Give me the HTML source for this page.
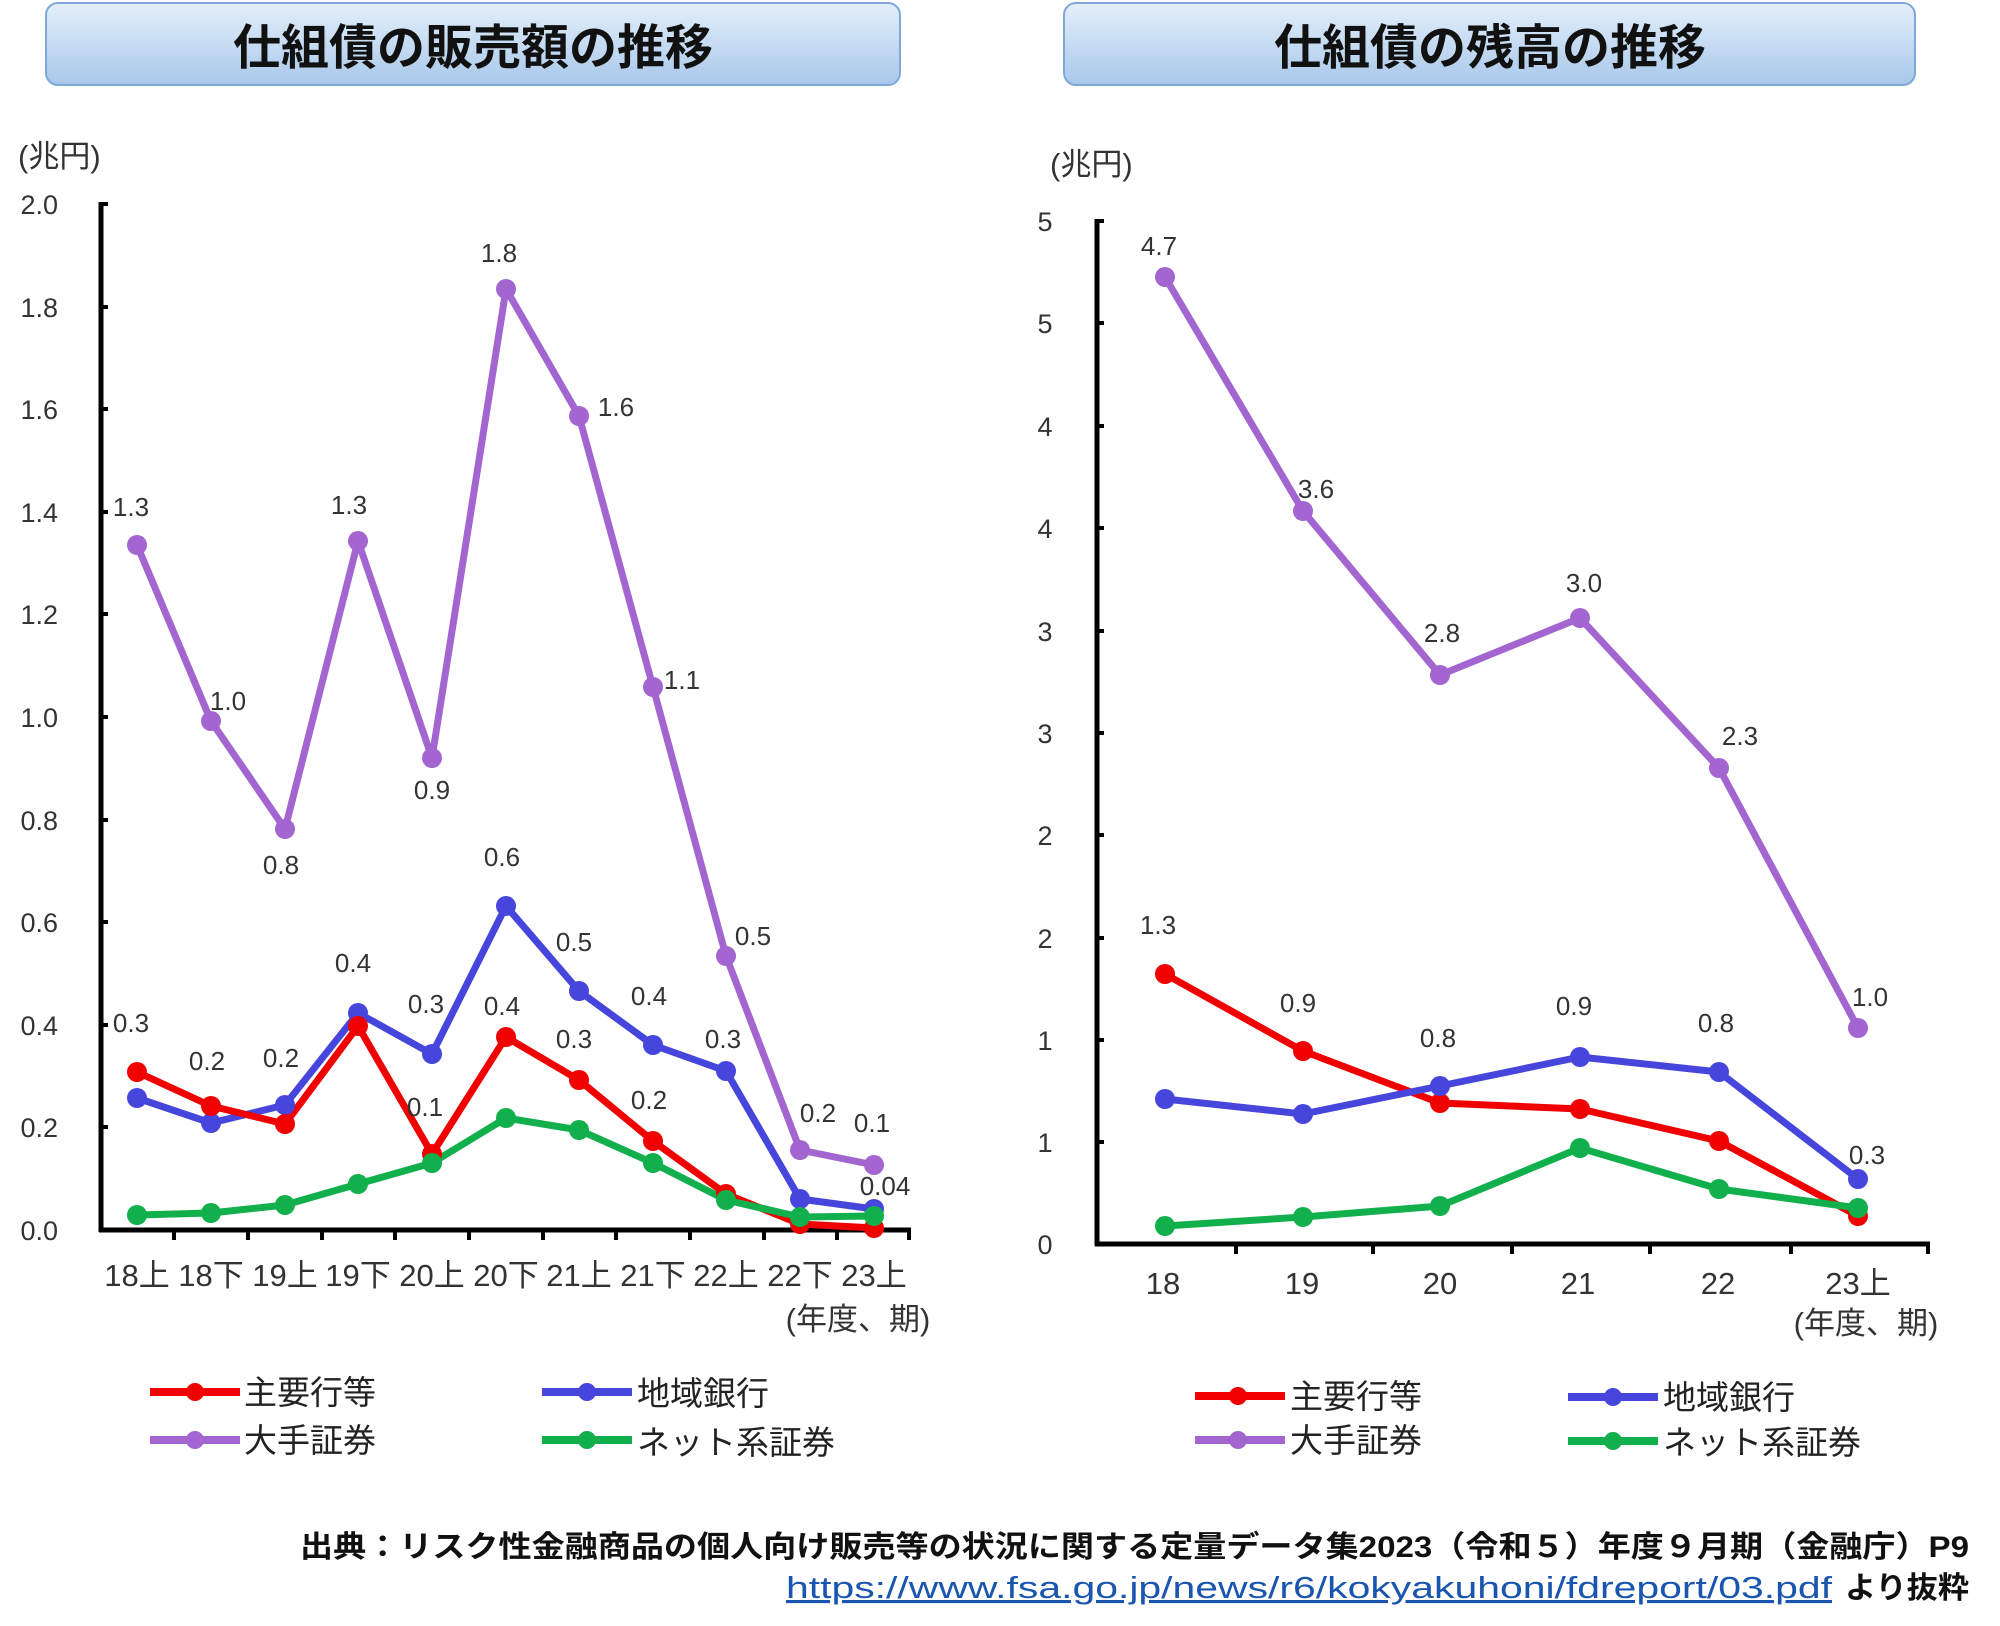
<!DOCTYPE html>
<html><head><meta charset="utf-8"><style>
html,body{margin:0;padding:0;background:#fff;}
svg{display:block;}
text{font-family:"Liberation Sans","Noto Sans CJK JP",sans-serif;}
.t{font-size:27px;fill:#333;}
.l{font-size:26px;fill:#333;}
.c{font-size:31px;fill:#333;}
.lg{font-size:33px;fill:#222;}
</style></head><body>
<svg width="2000" height="1626" viewBox="0 0 2000 1626" xmlns="http://www.w3.org/2000/svg">
<defs><linearGradient id="g" x1="0" y1="0" x2="0" y2="1"><stop offset="0" stop-color="#e4effa"/><stop offset="1" stop-color="#a8c8ea"/></linearGradient></defs>
<rect x="46" y="3" width="854" height="82" rx="12" fill="url(#g)" stroke="#7fa8d8" stroke-width="2"/>
<text x="473" y="64" text-anchor="middle" style="font-size:48px;font-weight:bold;fill:#111">仕組債の販売額の推移</text>
<rect x="1064" y="3" width="851" height="82" rx="12" fill="url(#g)" stroke="#7fa8d8" stroke-width="2"/>
<text x="1490" y="64" text-anchor="middle" style="font-size:48px;font-weight:bold;fill:#111">仕組債の残高の推移</text>

<text x="18" y="167" class="c">(兆円)</text>
<g class="t" text-anchor="end">
<text x="58" y="214">2.0</text><text x="58" y="317">1.8</text><text x="58" y="419">1.6</text><text x="58" y="522">1.4</text><text x="58" y="624">1.2</text><text x="58" y="727">1.0</text><text x="58" y="830">0.8</text><text x="58" y="932">0.6</text><text x="58" y="1035">0.4</text><text x="58" y="1137">0.2</text><text x="58" y="1240">0.0</text>
</g>
<g stroke="#000" stroke-width="5" fill="none">
<line x1="101" y1="202" x2="101" y2="1232"/><line x1="99" y1="1230" x2="911" y2="1230"/>
</g>
<g stroke="#000" stroke-width="4">
<line x1="101" y1="204" x2="108" y2="204"/><line x1="101" y1="307" x2="108" y2="307"/><line x1="101" y1="409" x2="108" y2="409"/><line x1="101" y1="512" x2="108" y2="512"/><line x1="101" y1="614" x2="108" y2="614"/><line x1="101" y1="717" x2="108" y2="717"/><line x1="101" y1="820" x2="108" y2="820"/><line x1="101" y1="922" x2="108" y2="922"/><line x1="101" y1="1025" x2="108" y2="1025"/><line x1="101" y1="1127" x2="108" y2="1127"/>
<line x1="174" y1="1230" x2="174" y2="1240"/><line x1="248" y1="1230" x2="248" y2="1240"/><line x1="322" y1="1230" x2="322" y2="1240"/><line x1="395" y1="1230" x2="395" y2="1240"/><line x1="469" y1="1230" x2="469" y2="1240"/><line x1="543" y1="1230" x2="543" y2="1240"/><line x1="616" y1="1230" x2="616" y2="1240"/><line x1="690" y1="1230" x2="690" y2="1240"/><line x1="764" y1="1230" x2="764" y2="1240"/><line x1="837" y1="1230" x2="837" y2="1240"/><line x1="909" y1="1230" x2="909" y2="1240"/>
</g>
<g class="c" text-anchor="middle">
<text x="137" y="1286">18上</text><text x="211" y="1286">18下</text><text x="285" y="1286">19上</text><text x="358" y="1286">19下</text><text x="432" y="1286">20上</text><text x="506" y="1286">20下</text><text x="579" y="1286">21上</text><text x="653" y="1286">21下</text><text x="726" y="1286">22上</text><text x="800" y="1286">22下</text><text x="874" y="1286">23上</text>
<text x="858" y="1330">(年度、期)</text>
</g>
<g stroke-width="7" fill="none" stroke-linejoin="round">
<polyline stroke="#a366d0" points="137,545 211,721 285,829 358,541 432,758 506,289 579,416 653,687 726,956 800,1150 874,1165"/>
<polyline stroke="#4646dc" points="137,1098 211,1123 285,1105 358,1013 432,1054 506,906 579,991 653,1045 726,1071 800,1199 874,1209"/>
<polyline stroke="#f00000" points="137,1072 211,1106 285,1124 358,1026 432,1154 506,1037 579,1080 653,1141 726,1194 800,1224 874,1228"/>
<polyline stroke="#12b04c" points="137,1215 211,1213 285,1205 358,1184 432,1163 506,1118 579,1130 653,1163 726,1200 800,1217 874,1216"/>
</g>
<g fill="#a366d0"><circle cx="137" cy="545" r="10"/><circle cx="211" cy="721" r="10"/><circle cx="285" cy="829" r="10"/><circle cx="358" cy="541" r="10"/><circle cx="432" cy="758" r="10"/><circle cx="506" cy="289" r="10"/><circle cx="579" cy="416" r="10"/><circle cx="653" cy="687" r="10"/><circle cx="726" cy="956" r="10"/><circle cx="800" cy="1150" r="10"/><circle cx="874" cy="1165" r="10"/></g>
<g fill="#4646dc"><circle cx="137" cy="1098" r="10"/><circle cx="211" cy="1123" r="10"/><circle cx="285" cy="1105" r="10"/><circle cx="358" cy="1013" r="10"/><circle cx="432" cy="1054" r="10"/><circle cx="506" cy="906" r="10"/><circle cx="579" cy="991" r="10"/><circle cx="653" cy="1045" r="10"/><circle cx="726" cy="1071" r="10"/><circle cx="800" cy="1199" r="10"/><circle cx="874" cy="1209" r="10"/></g>
<g fill="#f00000"><circle cx="137" cy="1072" r="10"/><circle cx="211" cy="1106" r="10"/><circle cx="285" cy="1124" r="10"/><circle cx="358" cy="1026" r="10"/><circle cx="432" cy="1154" r="10"/><circle cx="506" cy="1037" r="10"/><circle cx="579" cy="1080" r="10"/><circle cx="653" cy="1141" r="10"/><circle cx="726" cy="1194" r="10"/><circle cx="800" cy="1224" r="10"/><circle cx="874" cy="1228" r="10"/></g>
<g fill="#12b04c"><circle cx="137" cy="1215" r="10"/><circle cx="211" cy="1213" r="10"/><circle cx="285" cy="1205" r="10"/><circle cx="358" cy="1184" r="10"/><circle cx="432" cy="1163" r="10"/><circle cx="506" cy="1118" r="10"/><circle cx="579" cy="1130" r="10"/><circle cx="653" cy="1163" r="10"/><circle cx="726" cy="1200" r="10"/><circle cx="800" cy="1217" r="10"/><circle cx="874" cy="1216" r="10"/></g>
<g class="l" text-anchor="middle">
<text x="131" y="516">1.3</text><text x="228" y="710">1.0</text><text x="281" y="874">0.8</text><text x="349" y="514">1.3</text><text x="432" y="799">0.9</text><text x="499" y="262">1.8</text><text x="616" y="416">1.6</text><text x="682" y="689">1.1</text><text x="753" y="945">0.5</text><text x="818" y="1122">0.2</text><text x="872" y="1132">0.1</text><text x="885" y="1195">0.04</text>
<text x="353" y="972">0.4</text><text x="426" y="1013">0.3</text><text x="502" y="866">0.6</text><text x="574" y="951">0.5</text><text x="649" y="1005">0.4</text><text x="723" y="1048">0.3</text>
<text x="131" y="1032">0.3</text><text x="207" y="1070">0.2</text><text x="281" y="1067">0.2</text><text x="425" y="1116">0.1</text><text x="502" y="1015">0.4</text><text x="574" y="1048">0.3</text><text x="649" y="1109">0.2</text>
</g>
<g stroke-width="8"><line x1="150" y1="1392" x2="240" y2="1392" stroke="#f00000"/><line x1="542" y1="1392" x2="632" y2="1392" stroke="#4646dc"/><line x1="150" y1="1440" x2="240" y2="1440" stroke="#a366d0"/><line x1="542" y1="1440" x2="632" y2="1440" stroke="#12b04c"/></g>
<circle cx="195" cy="1392" r="9" fill="#f00000"/><circle cx="587" cy="1392" r="9" fill="#4646dc"/><circle cx="195" cy="1440" r="9" fill="#a366d0"/><circle cx="587" cy="1440" r="9" fill="#12b04c"/>
<g class="lg"><text x="244" y="1404">主要行等</text><text x="637" y="1405">地域銀行</text><text x="244" y="1452">大手証券</text><text x="637" y="1454">ネット系証券</text></g>

<text x="1050" y="175" class="c">(兆円)</text>
<g class="t" text-anchor="middle">
<text x="1045" y="231">5</text><text x="1045" y="333">5</text><text x="1045" y="436">4</text><text x="1045" y="538">4</text><text x="1045" y="641">3</text><text x="1045" y="743">3</text><text x="1045" y="845">2</text><text x="1045" y="948">2</text><text x="1045" y="1050">1</text><text x="1045" y="1152">1</text><text x="1045" y="1254">0</text>
</g>
<g stroke="#000" stroke-width="5" fill="none">
<line x1="1097" y1="219" x2="1097" y2="1246"/><line x1="1095" y1="1244" x2="1930" y2="1244"/>
</g>
<g stroke="#000" stroke-width="4">
<line x1="1097" y1="221" x2="1104" y2="221"/><line x1="1097" y1="323" x2="1104" y2="323"/><line x1="1097" y1="426" x2="1104" y2="426"/><line x1="1097" y1="528" x2="1104" y2="528"/><line x1="1097" y1="631" x2="1104" y2="631"/><line x1="1097" y1="733" x2="1104" y2="733"/><line x1="1097" y1="835" x2="1104" y2="835"/><line x1="1097" y1="938" x2="1104" y2="938"/><line x1="1097" y1="1040" x2="1104" y2="1040"/><line x1="1097" y1="1142" x2="1104" y2="1142"/>
<line x1="1236" y1="1244" x2="1236" y2="1254"/><line x1="1373" y1="1244" x2="1373" y2="1254"/><line x1="1512" y1="1244" x2="1512" y2="1254"/><line x1="1650" y1="1244" x2="1650" y2="1254"/><line x1="1791" y1="1244" x2="1791" y2="1254"/><line x1="1928" y1="1244" x2="1928" y2="1254"/>
</g>
<g class="c" text-anchor="middle">
<text x="1163" y="1294">18</text><text x="1302" y="1294">19</text><text x="1440" y="1294">20</text><text x="1578" y="1294">21</text><text x="1718" y="1294">22</text><text x="1858" y="1294">23上</text>
<text x="1866" y="1334">(年度、期)</text>
</g>
<g stroke-width="7" fill="none" stroke-linejoin="round">
<polyline stroke="#a366d0" points="1165,277 1303,511 1440,675 1580,618 1719,768 1858,1028"/>
<polyline stroke="#f00000" points="1165,974 1303,1051 1440,1103 1580,1109 1719,1141 1858,1216"/>
<polyline stroke="#4646dc" points="1165,1099 1303,1114 1440,1086 1580,1057 1719,1072 1858,1179"/>
<polyline stroke="#12b04c" points="1165,1226 1303,1217 1440,1206 1580,1148 1719,1189 1858,1208"/>
</g>
<g fill="#a366d0"><circle cx="1165" cy="277" r="10"/><circle cx="1303" cy="511" r="10"/><circle cx="1440" cy="675" r="10"/><circle cx="1580" cy="618" r="10"/><circle cx="1719" cy="768" r="10"/><circle cx="1858" cy="1028" r="10"/></g>
<g fill="#f00000"><circle cx="1165" cy="974" r="10"/><circle cx="1303" cy="1051" r="10"/><circle cx="1440" cy="1103" r="10"/><circle cx="1580" cy="1109" r="10"/><circle cx="1719" cy="1141" r="10"/><circle cx="1858" cy="1216" r="10"/></g>
<g fill="#4646dc"><circle cx="1165" cy="1099" r="10"/><circle cx="1303" cy="1114" r="10"/><circle cx="1440" cy="1086" r="10"/><circle cx="1580" cy="1057" r="10"/><circle cx="1719" cy="1072" r="10"/><circle cx="1858" cy="1179" r="10"/></g>
<g fill="#12b04c"><circle cx="1165" cy="1226" r="10"/><circle cx="1303" cy="1217" r="10"/><circle cx="1440" cy="1206" r="10"/><circle cx="1580" cy="1148" r="10"/><circle cx="1719" cy="1189" r="10"/><circle cx="1858" cy="1208" r="10"/></g>
<g class="l" text-anchor="middle">
<text x="1159" y="255">4.7</text><text x="1316" y="498">3.6</text><text x="1442" y="642">2.8</text><text x="1584" y="592">3.0</text><text x="1740" y="745">2.3</text><text x="1870" y="1006">1.0</text>
<text x="1158" y="934">1.3</text><text x="1298" y="1012">0.9</text><text x="1438" y="1047">0.8</text><text x="1574" y="1015">0.9</text><text x="1716" y="1032">0.8</text><text x="1867" y="1164">0.3</text>
</g>
<g stroke-width="8"><line x1="1195" y1="1396" x2="1285" y2="1396" stroke="#f00000"/><line x1="1568" y1="1397" x2="1658" y2="1397" stroke="#4646dc"/><line x1="1195" y1="1440" x2="1285" y2="1440" stroke="#a366d0"/><line x1="1568" y1="1441" x2="1658" y2="1441" stroke="#12b04c"/></g>
<circle cx="1238" cy="1396" r="9" fill="#f00000"/><circle cx="1613" cy="1397" r="9" fill="#4646dc"/><circle cx="1238" cy="1440" r="9" fill="#a366d0"/><circle cx="1613" cy="1441" r="9" fill="#12b04c"/>
<g class="lg"><text x="1290" y="1408">主要行等</text><text x="1663" y="1409">地域銀行</text><text x="1290" y="1452">大手証券</text><text x="1663" y="1454">ネット系証券</text></g>

<text x="300" y="1557" textLength="1669" lengthAdjust="spacingAndGlyphs" style="font-size:30px;font-weight:bold;fill:#111">出典：リスク性金融商品の個人向け販売等の状況に関する定量データ集2023（令和５）年度９月期（金融庁）P9</text>
<text x="786" y="1598" textLength="1046" lengthAdjust="spacingAndGlyphs" style="font-size:31px;fill:#1a55b0" text-decoration="underline">https://www.fsa.go.jp/news/r6/kokyakuhoni/fdreport/03.pdf</text>
<text x="1845" y="1598" textLength="124" lengthAdjust="spacingAndGlyphs" style="font-size:30px;font-weight:bold;fill:#111">より抜粋</text>
</svg>
</body></html>
